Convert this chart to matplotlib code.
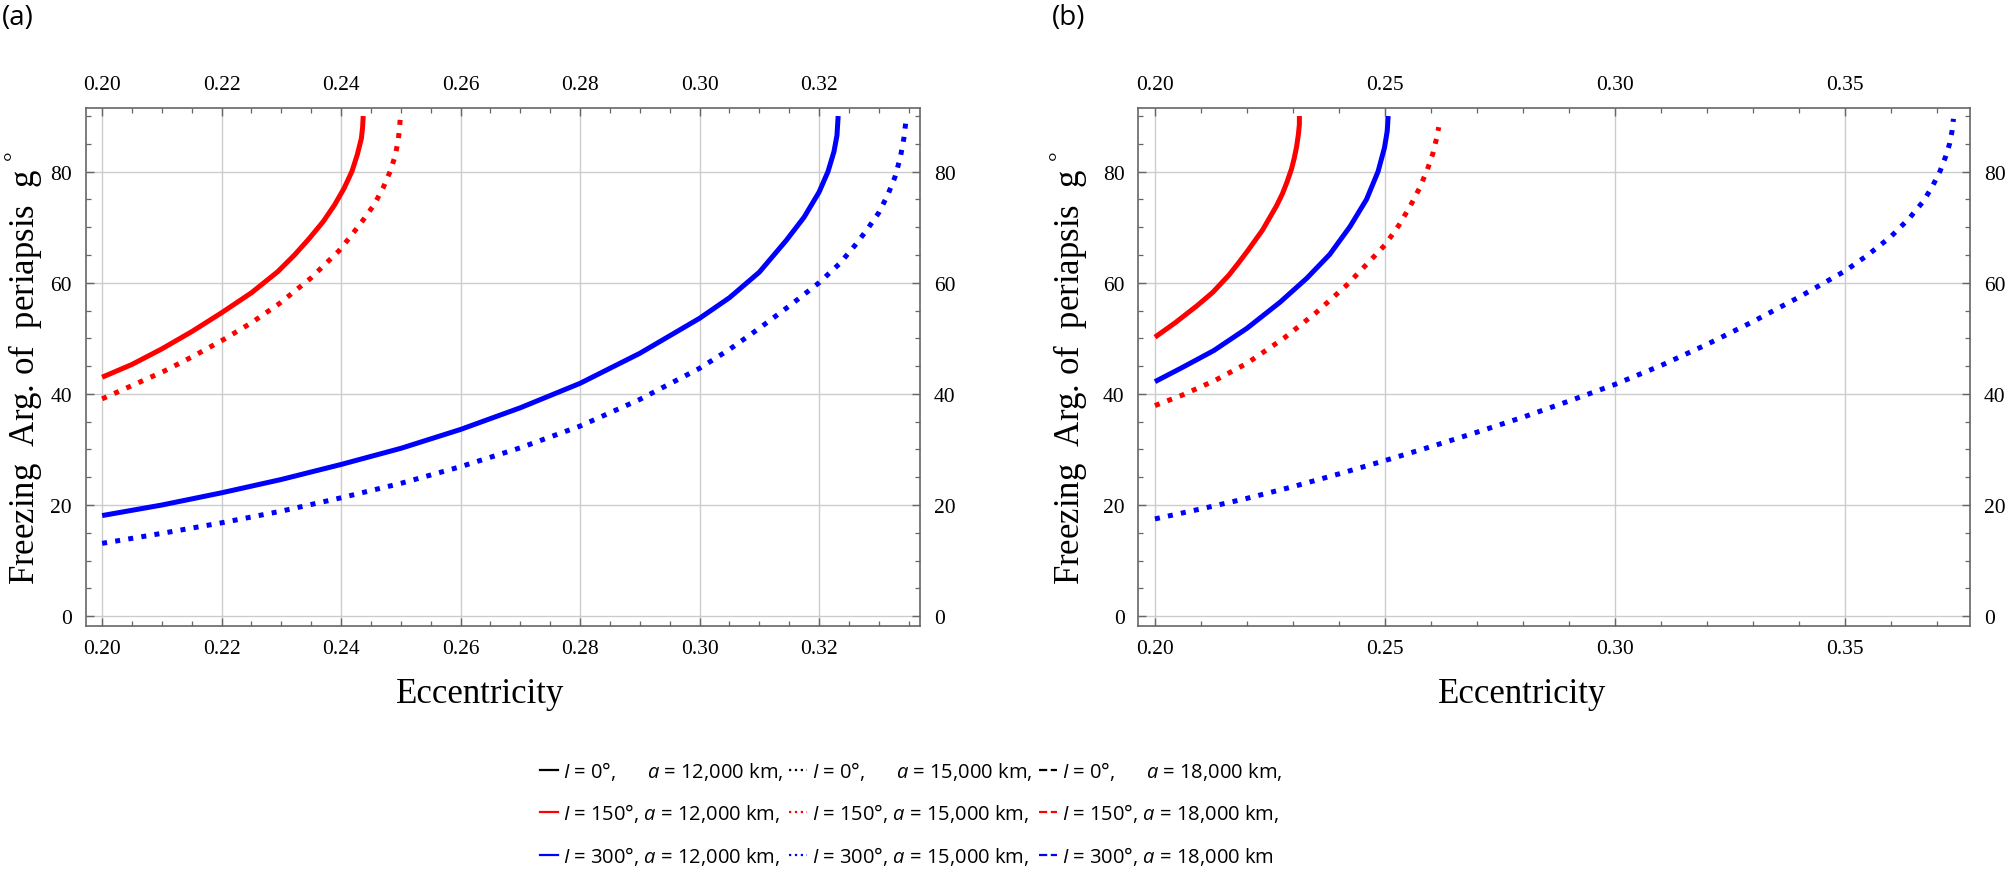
import matplotlib
matplotlib.use("Agg")
import matplotlib.pyplot as plt
from matplotlib.lines import Line2D
import numpy as np

LEG_FONT = "Open Sans"
plt.rcParams['mathtext.fontset'] = 'custom'
plt.rcParams['mathtext.rm'] = 'Liberation Serif'
plt.rcParams['mathtext.it'] = 'Open Sans:italic'

# ---------------- data ----------------
# Panel (a)
a_red_solid_e = [0.2000, 0.2050, 0.2100, 0.2150, 0.2200, 0.2250, 0.2294, 0.2322, 0.2347, 0.2370,
                 0.2389, 0.2405, 0.2418, 0.2427, 0.2434, 0.2436, 0.2437]
a_red_solid_g = [43.0, 45.3, 48.1, 51.2, 54.6, 58.2, 62.0, 65.0, 68.0, 71.0,
                 74.0, 77.0, 80.0, 83.0, 86.0, 88.0, 90.0]

a_red_dot_e = [0.2000, 0.2050, 0.2104, 0.2153, 0.2202, 0.2250, 0.2296, 0.2349, 0.2396, 0.2417,
               0.2437, 0.2455, 0.2470, 0.2482, 0.2491, 0.2496, 0.2498, 0.2499]
a_red_dot_g = [39.1, 41.5, 44.1, 46.8, 49.7, 52.8, 56.2, 60.8, 65.7, 68.5,
               71.3, 74.0, 77.0, 80.0, 83.0, 86.0, 88.0, 89.6]

a_blue_solid_e = [0.200, 0.210, 0.220, 0.230, 0.240, 0.250, 0.260, 0.270, 0.280, 0.290,
                  0.300, 0.305, 0.310, 0.3145, 0.3175, 0.3200, 0.3215, 0.3225, 0.3230, 0.3232]
a_blue_solid_g = [18.1, 20.0, 22.2, 24.6, 27.3, 30.2, 33.6, 37.5, 41.9, 47.3,
                  53.6, 57.3, 61.9, 67.6, 71.8, 76.3, 80.0, 83.6, 86.5, 90.0]

a_blue_dot_e = [0.200, 0.210, 0.220, 0.230, 0.240, 0.250, 0.260, 0.270, 0.280, 0.290,
                0.300, 0.305, 0.310, 0.315, 0.320, 0.3235, 0.326, 0.328, 0.330, 0.3315,
                0.3327, 0.3336, 0.3342, 0.3345]
a_blue_dot_g = [13.1, 14.9, 16.8, 18.9, 21.3, 23.9, 26.9, 30.3, 34.2, 39.0,
                44.6, 48.0, 51.8, 55.8, 60.0, 63.5, 66.7, 69.5, 72.6, 75.8,
                79.0, 82.5, 86.0, 88.7]

# Panel (b)
b_red_solid_e = [0.2000, 0.2044, 0.2092, 0.2126, 0.2161, 0.2182, 0.2202, 0.2234, 0.2264, 0.2277,
                 0.2287, 0.2297, 0.2303, 0.2308, 0.2312, 0.2314, 0.2314]
b_red_solid_g = [50.2, 52.8, 55.9, 58.3, 61.4, 63.6, 65.8, 69.5, 73.8, 76.0,
                 78.1, 80.5, 82.5, 84.5, 86.8, 88.5, 90.0]

b_blue_solid_e = [0.2000, 0.2056, 0.2128, 0.2200, 0.2272, 0.2330, 0.2380, 0.2424, 0.2460, 0.2485,
                  0.2499, 0.2505, 0.2507]
b_blue_solid_g = [42.2, 44.6, 47.8, 51.8, 56.5, 60.8, 65.1, 70.1, 75.0, 80.0,
                  84.3, 87.3, 90.0]

b_red_dot_e = [0.2000, 0.2060, 0.2130, 0.2200, 0.2280, 0.2350, 0.2416, 0.2467, 0.2500, 0.2530,
               0.2555, 0.2575, 0.2592, 0.2604, 0.2612, 0.2617]
b_red_dot_g = [37.9, 39.8, 42.4, 45.5, 50.0, 54.6, 59.5, 63.9, 66.8, 70.3,
               73.8, 77.0, 80.3, 83.2, 85.9, 88.0]

b_blue_dot_e = [0.200, 0.210, 0.220, 0.230, 0.240, 0.250, 0.260, 0.270, 0.280, 0.290,
                0.300, 0.310, 0.320, 0.330, 0.340, 0.350, 0.355, 0.360, 0.364, 0.367,
                0.369, 0.3707, 0.3719, 0.3728, 0.3733, 0.3736]
b_blue_dot_g = [17.5, 19.3, 21.2, 23.3, 25.6, 28.0, 30.5, 33.1, 35.8, 38.7,
                41.7, 45.1, 48.9, 53.0, 57.4, 62.1, 65.0, 68.3, 71.6, 74.6,
                77.3, 80.1, 82.7, 85.1, 87.3, 89.5]

# ticks
a_xticks = [0.20, 0.22, 0.24, 0.26, 0.28, 0.30, 0.32]
a_xticklabels = ["0.20", "0.22", "0.24", "0.26", "0.28", "0.30", "0.32"]
b_xticks = [0.20, 0.25, 0.30, 0.35]
b_xticklabels = ["0.20", "0.25", "0.30", "0.35"]
yticks = [0, 20, 40, 60, 80]
yticklabels = ["0", "20", "40", "60", "80"]

legend_labels = [
    r"$I$ = 0°,      $a$ = 12,000 km,", r"$I$ = 0°,      $a$ = 15,000 km,", r"$I$ = 0°,      $a$ = 18,000 km,",
    r"$I$ = 150°, $a$ = 12,000 km,", r"$I$ = 150°, $a$ = 15,000 km,", r"$I$ = 150°, $a$ = 18,000 km,",
    r"$I$ = 300°, $a$ = 12,000 km,", r"$I$ = 300°, $a$ = 15,000 km,", r"$I$ = 300°, $a$ = 18,000 km",
]
legend_colors = ["black", "black", "black", "red", "red", "red", "blue", "blue", "blue"]
legend_styles = ["-", ":", "--", "-", ":", "--", "-", ":", "--"]

# ---------------- figure ----------------
W, H = 2005, 870
fig = plt.figure(figsize=(W / 100, H / 100), dpi=100)

def px_axes(l, r, t, b):
    return fig.add_axes([l / W, (H - b) / H, (r - l) / W, (b - t) / H])

axA = px_axes(86, 920, 108.7, 626.6)
axB = px_axes(1138.4, 1970, 108.7, 626.6)

SERIF = "Liberation Serif"
LW = 3.6

def style(ax, xlim, xt, xtl, xminor):
    ax.set_xlim(*xlim)
    ax.set_ylim(-1.7, 91.5)
    ax.set_xticks(xt)
    ax.set_xticklabels(xtl)
    ax.set_xticks(xminor, minor=True)
    ax.set_yticks(yticks)
    ax.set_yticklabels(yticklabels)
    ax.set_yticks(np.arange(0, 91, 5), minor=True)
    ax.tick_params(which="both", direction="in", top=True, right=True,
                   labeltop=True, labelright=True, color="#666666",
                   labelcolor="black", labelsize=15.5, pad=10)
    ax.tick_params(which="major", length=6, width=1)
    ax.tick_params(which="minor", length=3.5, width=0.9)
    for t in ax.xaxis.get_major_ticks() + ax.yaxis.get_major_ticks():
        t.label1.set_family(SERIF)
        t.label2.set_family(SERIF)
    ax.grid(which="major", color="#cccccc", lw=1)
    ax.set_axisbelow(True)
    for s in ax.spines.values():
        s.set_color("#666666")
        s.set_linewidth(1.2)
    ax.set_xlabel("Eccentricity", fontsize=25, family=SERIF)
    ax.set_ylabel("Freezing  Arg. of  periapsis  g $^{°}$", fontsize=25, family=SERIF)

style(axA, (0.1973, 0.3369), a_xticks, a_xticklabels, np.arange(0.200, 0.3351, 0.005))
style(axB, (0.1964, 0.3772), b_xticks, b_xticklabels, np.arange(0.20, 0.3751, 0.01))

axA.plot(a_red_solid_e, a_red_solid_g, color="red", lw=LW, solid_capstyle="butt")
axA.plot(a_red_dot_e, a_red_dot_g, color="red", lw=LW, ls=":")
axA.plot(a_blue_solid_e, a_blue_solid_g, color="blue", lw=LW, solid_capstyle="butt")
axA.plot(a_blue_dot_e, a_blue_dot_g, color="blue", lw=LW, ls=":")

axB.plot(b_red_solid_e, b_red_solid_g, color="red", lw=LW, solid_capstyle="butt")
axB.plot(b_blue_solid_e, b_blue_solid_g, color="blue", lw=LW, solid_capstyle="butt")
axB.plot(b_red_dot_e, b_red_dot_g, color="red", lw=LW, ls=":")
axB.plot(b_blue_dot_e, b_blue_dot_g, color="blue", lw=LW, ls=":")

axA.xaxis.set_label_coords(0.472, -0.10)
axB.xaxis.set_label_coords(0.462, -0.10)
axA.yaxis.set_label_coords(-0.049, 0.5)
axB.yaxis.set_label_coords(-0.058, 0.5)

fig.text(2 / W, 1 - 18 / H, "(a)", fontsize=20, family="Open Sans", va="center", ha="left")
fig.text(1052 / W, 1 - 18 / H, "(b)", fontsize=20, family="Open Sans", va="center", ha="left")

# legend: fill row by row (matplotlib fills column by column)
order = [0, 3, 6, 1, 4, 7, 2, 5, 8]
handles = [Line2D([], [], color=legend_colors[i], ls=legend_styles[i], lw=1.6) for i in order]
labels = [legend_labels[i] for i in order]
leg = fig.legend(handles, labels, ncol=3, loc="center",
                 bbox_to_anchor=(911 / W, (H - 814) / H), frameon=False,
                 prop={"family": LEG_FONT, "size": 14.5},
                 handlelength=0.9, handletextpad=0.25, columnspacing=0.3,
                 labelspacing=0.95, borderpad=0)

fig.savefig("out.png", dpi=100)
